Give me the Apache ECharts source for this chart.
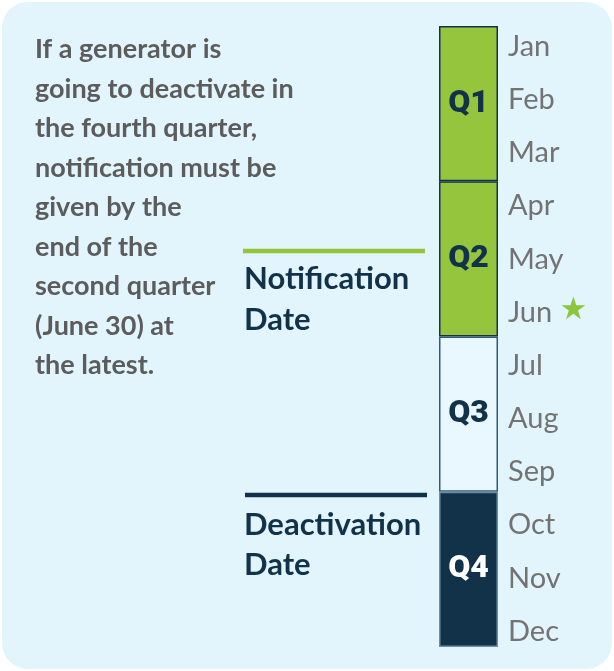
<!DOCTYPE html>
<html><head><meta charset="utf-8">
<script src="https://cdn.jsdelivr.net/npm/echarts@6/dist/echarts.min.js"></script>
<style>html,body{margin:0;padding:0;background:#fff}#c{width:614px;height:671px}</style>
</head><body><div id="c"></div>
<script>
// ---- data ----
const quarters = ['Q1', 'Q2', 'Q3', 'Q4'];
const monthsPerQuarter = [3, 3, 3, 3];
const months = ['Jan','Feb','Mar','Apr','May','Jun','Jul','Aug','Sep','Oct','Nov','Dec'];
const starMonth = 'Jun';
const noteLines = ['If a generator is','going to deactivate in','the fourth quarter,','notification must be','given by the','end of the','second quarter','(June 30) at','the latest.'];
const notificationLabel = ['Notification', 'Date'];
const deactivationLabel = ['Deactivation', 'Date'];

// ---- styles ----
const GREEN = '#95c43d', NAVY = '#12324a', PALE = '#e9f8fe';
const qFill = [GREEN, GREEN, PALE, NAVY];
const qText = [NAVY, NAVY, NAVY, '#ffffff'];
const qBorder = [NAVY, NAVY, '#35587a', '#6f8ea5'];

const chart = echarts.init(document.getElementById('c'), null, {renderer: 'canvas'});
const barSeries = quarters.map((q, i) => ({
  name: q, type: 'bar', stack: 'year', xAxisIndex: 0, yAxisIndex: 0,
  barWidth: '100%', data: [monthsPerQuarter[i]],
  itemStyle: {color: qFill[i], borderColor: qBorder[i], borderWidth: 1.5},
  label: {show: true, position: 'inside', formatter: q, color: qText[i],
    fontFamily: 'Roboto', fontWeight: 900, fontSize: 32},
  silent: true, z: 3
}));
const total = monthsPerQuarter.reduce((a, b) => a + b, 0);

chart.setOption({
  animation: false,
  backgroundColor: '#ffffff',
  grid: [
    {left: 439, width: 59, top: 26, height: 621},
    {left: 439, width: 59, top: 20, height: 638}
  ],
  xAxis: [
    {gridIndex: 0, type: 'category', data: ['year'], show: false},
    {gridIndex: 1, type: 'value', show: false, min: 0, max: 1}
  ],
  yAxis: [
    {gridIndex: 0, type: 'value', min: 0, max: total, inverse: true, show: false},
    {gridIndex: 1, type: 'category', data: months, inverse: true, position: 'right',
      axisLine: {show: false}, axisTick: {show: false}, splitLine: {show: false},
      axisLabel: {margin: 10, color: '#737373', fontFamily: 'Lato', fontSize: 29,
        formatter: v => v === starMonth ? v + ' {s|★}' : v,
        rich: {s: {color: '#8cc63f', fontSize: 31, fontFamily: 'DejaVu Sans', padding: [0,0,2,0]}}}}
  ],
  series: barSeries.concat([{
    type: 'scatter', xAxisIndex: 1, yAxisIndex: 1, symbolSize: 0, silent: true,
    data: months.map(m => [0.5, m])
  }]),
  graphic: [
    {type: 'rect', z: -10, shape: {x: 2, y: 2, width: 610, height: 667, r: 26},
      style: {fill: '#e2f5fd'}},
    {type: 'text', left: 35, top: 30, z: 5,
      style: {text: noteLines.join('\n'), font: 'bold 27px Lato', lineHeight: 39.5, fill: '#5c5c5c'}},
    {type: 'line', z: 5, shape: {x1: 243, y1: 251, x2: 425, y2: 251}, style: {stroke: GREEN, lineWidth: 4.5}},
    {type: 'text', left: 244, top: 258, z: 5,
      style: {text: notificationLabel.join('\n'), font: 'bold 31px Lato', lineHeight: 41, fill: NAVY}},
    {type: 'line', z: 5, shape: {x1: 245, y1: 495, x2: 427, y2: 495}, style: {stroke: NAVY, lineWidth: 4.5}},
    {type: 'text', left: 244, top: 505, z: 5,
      style: {text: deactivationLabel.join('\n'), font: 'bold 31px Lato', lineHeight: 40, fill: NAVY}}
  ]
});
</script></body></html>
